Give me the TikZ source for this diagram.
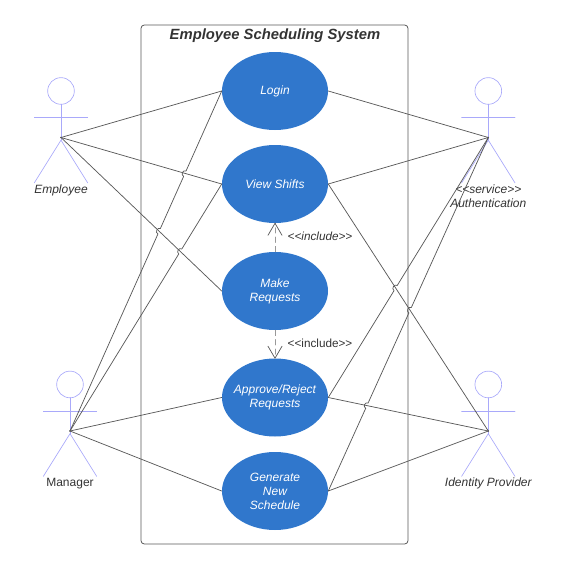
\documentclass[tikz,border=0pt]{standalone}
\usepackage{fontspec}
\setmainfont{Liberation Sans}
\usetikzlibrary{shapes.geometric,calc}
\definecolor{usecaseblue}{HTML}{3077CC}
\definecolor{actorblue}{HTML}{A9A9FA}
\definecolor{linegray}{HTML}{595959}
\definecolor{dashgray}{HTML}{999999}
\definecolor{textgray}{HTML}{333333}
\tikzset{
  usecase/.style={ellipse,fill=usecaseblue,text=white,minimum width=79.5pt,minimum height=58.5pt,
    inner sep=-12pt,align=center,font=\fontsize{9}{10.6}\selectfont\itshape},
  actorline/.style={line width=0.5pt,actorblue},
  assoc/.style={line width=0.55pt,linegray},
  depend/.style={line width=0.55pt,dashgray,dash pattern=on 4pt off 3pt},
  openhead/.style={line width=0.55pt,linegray},
  hop/.style={bend left=90,looseness=1.5},
  actorlabel/.style={text=textgray,font=\fontsize{9}{10.6}\selectfont,align=center,inner sep=0pt},
  actorlabelit/.style={actorlabel,font=\fontsize{9}{10.6}\selectfont\itshape},
}
% stick figure: hip is the point that the lines end at
\newcommand{\actorfig}[2]{%
  \coordinate (#1) at (#2);
  \draw[actorline] ($(#1)+(0,34.9pt)$) circle (10pt);
  \draw[actorline] ($(#1)+(0,24.9pt)$) -- ($(#1)+(0,-2pt)$);
  \draw[actorline] ($(#1)+(-20pt,15pt)$) -- ($(#1)+(20pt,15pt)$);
  \draw[actorline] ($(#1)+(-20pt,-34pt)$) -- ($(#1)+(0,-2pt)$) -- ($(#1)+(20pt,-34pt)$);
  \fill[linegray] (#1) circle (0.7pt);
}
\begin{document}
\begin{tikzpicture}[x=0.75pt,y=-0.75pt,line cap=round,line join=round]
  \useasboundingbox (0,0) rectangle (569,571);
  \draw[line width=0.6pt,draw=linegray,rounded corners=2.5pt] (141,25) rectangle (408,544);
  \node[text=textgray,font=\fontsize{11.1}{13}\selectfont\bfseries\itshape] (title) at (275,36) {Employee Scheduling System};

  \node[usecase] (login) at (275,91) {Login};
  \node[usecase] (shifts) at (275,184) {View Shifts};
  \node[usecase] (make) at (275,291) {Make\\Requests};
  \node[usecase] (approve) at (275,397.5) {Approve/Reject\\Requests};
  \node[usecase] (generate) at (275,491) {Generate\\New\\Schedule};

  \actorfig{employee}{61,137.5}
  \actorfig{auth}{488.3,137.5}
  \actorfig{manager}{70,431}
  \actorfig{idp}{488.3,431}

  \node[actorlabelit] (emplabel) at (61,190.5) {Employee};
  \node[actorlabelit] (authlabel) at (488.3,196) {<{}<service>{}>\\Authentication};
  \node[actorlabel] (mgrlabel) at (70,483.5) {Manager};
  \node[actorlabelit] (idplabel) at (488.3,483.5) {Identity Provider};

  \draw[assoc] (employee) -- (login.west);
  \draw[assoc] (employee) -- (shifts.west);
  \draw[assoc] (employee) -- (make.west);
  \draw[assoc] (manager) -- ($(manager)!.5796!(login.west)$) to[hop] ($(manager)!.5956!(login.west)$)
    -- ($(manager)!.749!(login.west)$) to[hop] ($(manager)!.765!(login.west)$) -- (login.west);
  \draw[assoc] (manager) -- ($(manager)!.717!(shifts.west)$) to[hop] ($(manager)!.737!(shifts.west)$) -- (shifts.west);
  \draw[assoc] (manager) -- (approve.west);
  \draw[assoc] (manager) -- (generate.west);
  \draw[assoc] (login.east) -- (auth);
  \draw[assoc] (shifts.east) -- (auth);
  \draw[assoc] (approve.east) -- ($(approve.east)!.411!(auth)$) to[hop] ($(approve.east)!.431!(auth)$) -- (auth);
  \draw[assoc] (generate.east) -- ($(generate.east)!.234!(auth)$) to[hop] ($(generate.east)!.249!(auth)$)
    -- ($(generate.east)!.504!(auth)$) to[hop] ($(generate.east)!.519!(auth)$) -- (auth);
  \draw[assoc] (shifts.east) -- (idp);
  \draw[assoc] (approve.east) -- (idp);
  \draw[assoc] (generate.east) -- (idp);

  \draw[depend] (make.north) -- (shifts.south);
  \draw[depend] (make.south) -- (approve.north);
  \draw[openhead] ($(shifts.south)+(-5.25pt,-9pt)$) -- (shifts.south) -- ($(shifts.south)+(5.25pt,-9pt)$);
  \draw[openhead] ($(approve.north)+(-5.25pt,9pt)$) -- (approve.north) -- ($(approve.north)+(5.25pt,9pt)$);
  \node[actorlabelit,font=\fontsize{8.8}{10}\selectfont\itshape] (inclabel) at (320,236) {<{}<include>{}>};
  \node[actorlabel,font=\fontsize{8.8}{10}\selectfont] (inclabelb) at (320,343) {<{}<include>{}>};
\end{tikzpicture}
\end{document}
